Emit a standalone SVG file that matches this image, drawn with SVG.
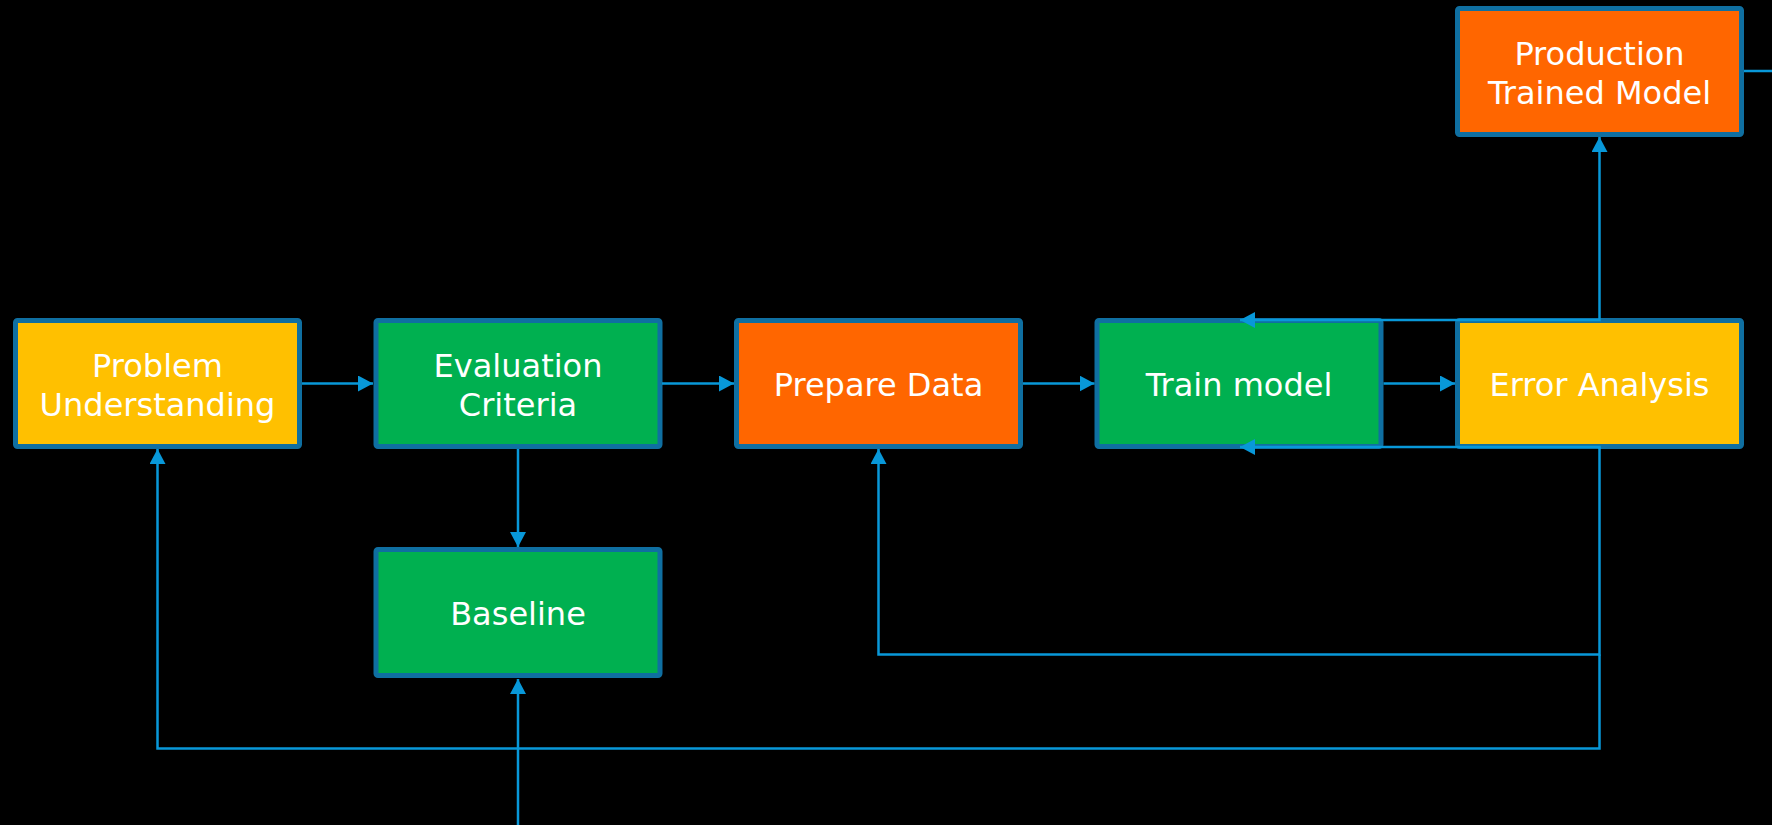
<svg xmlns="http://www.w3.org/2000/svg" width="1772" height="825" viewBox="0 0 1772 825">
  <style>
    .box { stroke: #0F6FA1; stroke-width: 5; }
    .yellow { fill: #FFC000; }
    .green { fill: #00B050; }
    .orange { fill: #FF6600; }
    .label { fill: #FFFFFF; font-family: "DejaVu Sans", Verdana, sans-serif; font-size: 32px; text-anchor: middle; }
    .wire { fill: none; stroke: #0898D9; stroke-width: 2.5; }
  </style>
  <defs>
    <marker id="arrow" viewBox="0 0 15 16" refX="15" refY="8" markerWidth="15" markerHeight="16" markerUnits="userSpaceOnUse" orient="auto">
      <path d="M0,0 L15,8 L0,16 z" fill="#0898D9"/>
    </marker>
  </defs>
  <rect x="0" y="0" width="1772" height="825" fill="#000000"/>

  <g id="problem-understanding">
    <rect class="box yellow" x="15.5" y="320.5" width="284" height="126" rx="2"/>
    <text class="label" x="157.5" y="377">Problem</text>
    <text class="label" x="157.5" y="415.5">Understanding</text>
  </g>

  <g id="evaluation-criteria">
    <rect class="box green" x="376" y="320.5" width="284" height="126" rx="2"/>
    <text class="label" x="518" y="377">Evaluation</text>
    <text class="label" x="518" y="415.5">Criteria</text>
  </g>

  <g id="prepare-data">
    <rect class="box orange" x="736.5" y="320.5" width="284" height="126" rx="2"/>
    <text class="label" x="878.5" y="395.5">Prepare Data</text>
  </g>

  <g id="train-model">
    <rect class="box green" x="1097" y="320.5" width="284" height="126" rx="2"/>
    <text class="label" x="1239" y="395.5">Train model</text>
  </g>

  <g id="error-analysis">
    <rect class="box yellow" x="1457.5" y="320.5" width="284" height="126" rx="2"/>
    <text class="label" x="1599.5" y="395.5">Error Analysis</text>
  </g>

  <g id="production-trained-model">
    <rect class="box orange" x="1457.5" y="8.5" width="284" height="126" rx="2"/>
    <text class="label" x="1599.5" y="65">Production</text>
    <text class="label" x="1599.5" y="103.5">Trained Model</text>
  </g>

  <g id="baseline">
    <rect class="box green" x="376" y="549.5" width="284" height="126" rx="2"/>
    <text class="label" x="518" y="625">Baseline</text>
  </g>

  <g id="connectors">
    <!-- main flow -->
    <line class="wire" x1="302" y1="383.5" x2="373" y2="383.5" marker-end="url(#arrow)"/>
    <line class="wire" x1="662" y1="383.5" x2="734" y2="383.5" marker-end="url(#arrow)"/>
    <line class="wire" x1="1023" y1="383.5" x2="1094.5" y2="383.5" marker-end="url(#arrow)"/>
    <line class="wire" x1="1383.5" y1="383.5" x2="1455" y2="383.5" marker-end="url(#arrow)"/>
    <!-- evaluation to baseline -->
    <line class="wire" x1="518" y1="449" x2="518" y2="547" marker-end="url(#arrow)"/>
    <!-- feed from below into baseline -->
    <line class="wire" x1="518" y1="825" x2="518" y2="679" marker-end="url(#arrow)"/>
    <!-- error analysis to production -->
    <line class="wire" x1="1599.5" y1="318" x2="1599.5" y2="137" marker-end="url(#arrow)"/>
    <!-- production outgoing stub -->
    <line class="wire" x1="1744" y1="71" x2="1772" y2="71"/>
    <!-- error analysis loops back to train model -->
    <polyline class="wire" points="1599.5,318 1599.5,320 1240,320" marker-end="url(#arrow)"/>
    <polyline class="wire" points="1599.5,449 1599.5,447 1240,447" marker-end="url(#arrow)"/>
    <!-- error analysis back to prepare data -->
    <polyline class="wire" points="1599.5,447 1599.5,654.5 878.5,654.5 878.5,449" marker-end="url(#arrow)"/>
    <!-- error analysis back to problem understanding -->
    <polyline class="wire" points="1599.5,654.5 1599.5,748.5 157.5,748.5 157.5,449" marker-end="url(#arrow)"/>
  </g>
</svg>
